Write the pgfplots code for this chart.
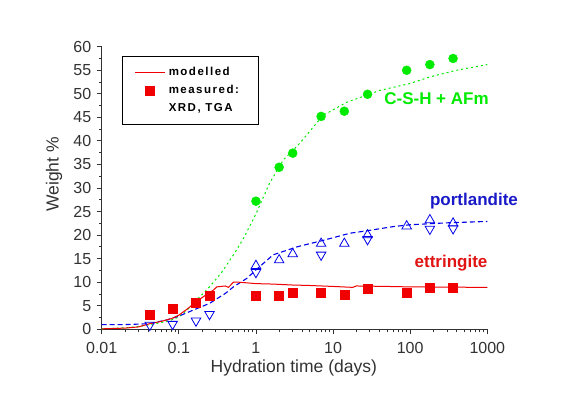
\documentclass[border=0pt]{standalone}
\usepackage{fontspec}
\setmainfont{Liberation Sans}
\newfontfamily\legfont[LetterSpace=13]{Liberation Sans}
\usepackage{pgfplots}
\pgfplotsset{compat=1.18}
\definecolor{cgreen}{RGB}{0,235,0}
\definecolor{cblue}{RGB}{0,0,235}
\definecolor{ctblue}{RGB}{25,25,200}
\definecolor{cred}{RGB}{240,0,0}
\definecolor{ctred}{RGB}{225,20,20}
\definecolor{axgray}{RGB}{50,50,50}
\begin{document}
\begin{tikzpicture}
\useasboundingbox (0,0) rectangle (570bp,399bp);
\begin{axis}[
  at={(101.7bp,69.7bp)}, anchor=south west,
  scale only axis, width=385.6bp, height=282.6bp,
  xmode=log, xmin=0.01, xmax=1000, ymin=0, ymax=60,
  axis lines*=left,
  axis line style={axgray, line width=1bp},
  tick style={axgray, line width=0.8bp},
  tick align=outside,
  major tick length=5bp, minor tick length=3bp,
  xtick={0.01,0.1,1,10,100,1000}, xticklabels={0.01,0.1,1,10,100,1000},
  minor xtick={0.02,0.03,0.04,0.05,0.06,0.07,0.08,0.09,0.2,0.3,0.4,0.5,0.6,0.7,0.8,0.9,2,3,4,5,6,7,8,9,20,30,40,50,60,70,80,90,200,300,400,500,600,700,800,900},
  ytick={0,5,...,60}, minor y tick num=1,
  ticklabel style={font=\fontsize{16bp}{19bp}\selectfont, text=axgray},
  xticklabel style={yshift=-5bp},
  yticklabel style={xshift=-2bp},
  /pgf/number format/assume math mode=true,
  clip=false,
  legend style={at={(axis description cs:0.052,0.967)}, anchor=north west,
    draw=black, line width=1bp, font=\legfont\bfseries\fontsize{11.5bp}{13bp}\selectfont,
    inner xsep=12bp, inner ysep=7bp, row sep=0bp,
    nodes={inner ysep=3bp, inner xsep=3.5bp, text height=9bp, text depth=3bp},
    cells={anchor=west}},
]
% modelled curves
\addplot[cgreen, line width=1bp, dash pattern=on 2bp off 3bp, forget plot] coordinates {
(0.01,0.1) (0.02,0.3) (0.03,0.6) (0.05,1.2) (0.075,1.8) (0.1,2.6) (0.13,4.2) (0.17,6.2)
(0.25,9) (0.36,12.1) (0.54,16.4) (0.7,19.5) (1,24.5) (1.5,31) (2.25,35.9) (3.7,39.5)
(7.4,45.4) (15,48.2) (40,50.7) (100,52.2) (181,53.6) (400,55) (1000,56.2)};
\addplot[cblue, line width=1.1bp, dash pattern=on 5bp off 3bp, forget plot] coordinates {
(0.01,1.0) (0.02,1.0) (0.03,1.1) (0.042,1.2) (0.07,2.0) (0.1,2.8) (0.15,4.0) (0.25,5.5)
(0.4,7.6) (0.51,9.0) (0.76,10.8) (1.0,12.6) (1.67,15.8) (3.4,17.5) (7.5,18.9) (16.6,20.4)
(27,20.9) (60,21.8) (100,22.2) (300,22.6) (1000,22.9)};
\addplot[cred, line width=1bp, forget plot] coordinates {
(0.01,0.1) (0.02,0.25) (0.03,0.5) (0.042,1.2) (0.06,1.7) (0.081,2.3) (0.1,3.0) (0.126,4.2)
(0.17,5.9) (0.22,7.2) (0.28,8.3) (0.31,9.0) (0.4,9.2) (0.44,8.9) (0.51,10.0) (0.6,10.0)
(1.0,9.7) (1.67,9.6) (3,9.4) (5,9.3) (10,9.1) (18,8.9) (20,9.2) (50,9.1) (100,9.0) (1000,8.9)};
% measured
\addplot[only marks, mark=*, mark size=4.5bp, draw=cgreen, fill=cgreen, forget plot] coordinates {
(1,27.2) (2,34.4) (3,37.4) (7,45.2) (14,46.3) (28,49.9) (90,55) (180,56.2) (360,57.5)};
\addplot[only marks, mark=triangle, mark size=5.5bp, cblue, mark options={line width=0.8bp}, forget plot] coordinates {
(1,13.5) (2,14.7) (3,16.0) (7,18.2) (14,18.2) (28,20.0) (90,21.9) (180,23.2) (360,22.5)};
\addplot[only marks, mark=triangle, mark size=5.5bp, cblue, mark options={line width=0.8bp, rotate=180}, forget plot] coordinates {
(0.042,0.9) (0.083,1.1) (0.167,1.8) (0.25,3.2) (1,12.1) (7,15.8) (28,19.1) (180,21.3) (360,21.4)};
\addplot[only marks, mark=square*, mark size=4.5bp, draw=cred, fill=cred, forget plot] coordinates {
(0.042,3.2) (0.083,4.3) (0.167,5.7) (0.25,7.1) (1,7.1) (2,7.1) (3,7.8) (7,7.8) (14,7.4)
(28,8.7) (90,7.8) (180,8.9) (360,8.8)};
% legend
\addlegendimage{legend image code/.code={\draw[draw=cred, color=cred, line width=1bp] (0bp,0bp) -- (30bp,0bp);}}
\addlegendentry{modelled}
\addlegendimage{legend image code/.code={\path[fill=cred, draw=cred, line width=0.5bp] (10.5bp,-4.5bp) rectangle (19.5bp,4.5bp);}}
\addlegendentry{measured:}
\addlegendimage{legend image code/.code={}}
\addlegendentry{XRD, TGA\hspace*{10bp}}
\end{axis}
\node[anchor=base, text=axgray, font=\fontsize{17.5bp}{21bp}\selectfont] at (293.8bp,27bp) {Hydration time (days)};
\node[anchor=base, rotate=90, text=axgray, font=\fontsize{17.5bp}{21bp}\selectfont] at (58.7bp,224.5bp) {Weight \%};
\node[text=cgreen, font=\bfseries\fontsize{17bp}{20bp}\selectfont] at (436.5bp,300bp) {C-S-H + AFm};
\node[text=ctblue, font=\bfseries\fontsize{17bp}{20bp}\selectfont] at (474bp,198bp) {portlandite};
\node[text=ctred, font=\bfseries\fontsize{17bp}{20bp}\selectfont] at (451bp,136bp) {ettringite};
\end{tikzpicture}
\end{document}
